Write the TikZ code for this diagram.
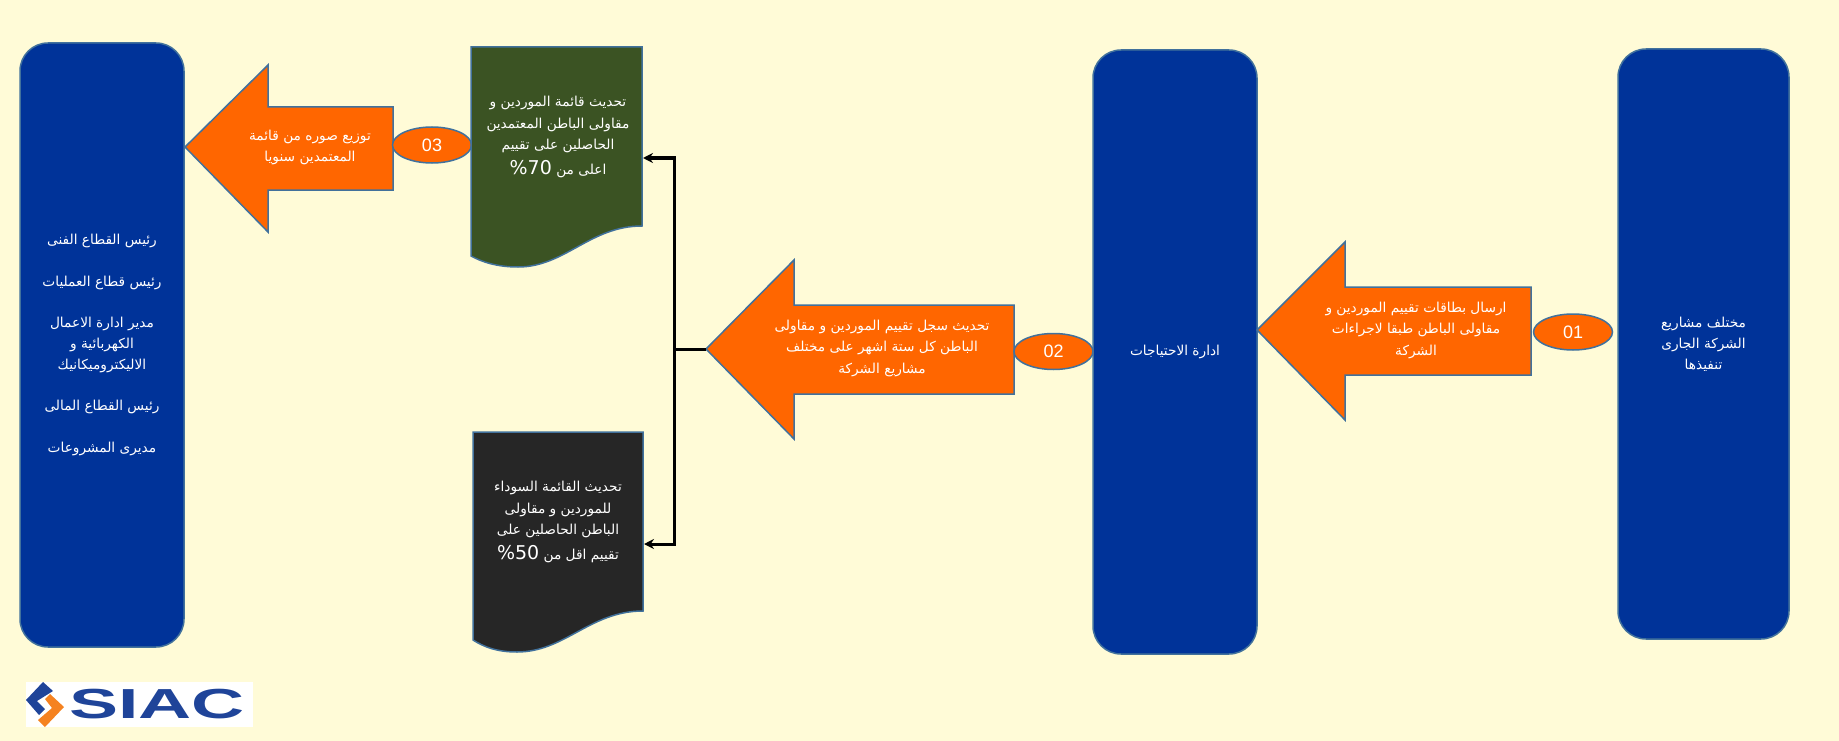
\documentclass[tikz,border=0pt]{standalone}
\usepackage{fontspec}
\usepackage{tikz}
\usetikzlibrary{arrows.meta,positioning,shapes.geometric}
\setmainfont{Liberation Sans}
\newfontfamily\arabicfont[Script=Arabic]{DejaVu Sans}
\TeXXeTstate=1
\newcommand{\arline}[1]{\beginR #1\endR}
\definecolor{pagebg}{HTML}{FFFBD7}
\definecolor{panelblue}{HTML}{003399}
\definecolor{edgeblue}{HTML}{41719C}
\definecolor{stepor}{HTML}{FF6600}
\definecolor{docgreen}{HTML}{3B5323}
\definecolor{docblack}{HTML}{262626}
\definecolor{logoblue}{HTML}{1F4499}
\definecolor{logoor}{HTML}{F58220}

\begin{document}
\begin{tikzpicture}[
    x=1pt, y=-1pt,
    panel/.style={rectangle, draw=edgeblue, fill=panelblue, line width=1.5pt, rounded corners=28pt, text=white, align=center, font=\arabicfont\fontsize{13.7}{20.8}\selectfont},
    label/.style={align=center, text=white, font=\arabicfont\fontsize{13.7}{21.5}\selectfont},
    stepshape/.style={draw=edgeblue, fill=stepor, line width=1.5pt},
    docshape/.style={draw=edgeblue, line width=1.5pt},
    numoval/.style={ellipse, draw=edgeblue, fill=stepor, line width=1.5pt, inner sep=0pt, minimum width=79pt, minimum height=36pt, text=white, font=\fontsize{18}{20}\selectfont},
    arrow/.style={-{Stealth[length=3.5mm,width=3.5mm]}, line width=3pt}
]
    \useasboundingbox (0,0) rectangle (1839,741);
    \fill[pagebg] (0,0) rectangle (1839,741);

    % Panels
    \node[panel, minimum width=164pt, minimum height=604pt] (chiefs) at (102,345) {\arline{رئيس القطاع الفنى}\\[20.8pt]\arline{رئيس قطاع العمليات}\\[20.8pt]\arline{مدير ادارة الاعمال}\\\arline{الكهربائية و}\\\arline{الاليكتروميكانيك}\\[20.8pt]\arline{رئيس القطاع المالى}\\[20.8pt]\arline{مديرى المشروعات}};
    \node[panel, minimum width=164pt, minimum height=604pt] (needs) at (1175,352) {\arline{ادارة الاحتياجات}};
    \node[panel, minimum width=171pt, minimum height=590pt] (sites) at (1703.5,344) {\arline{مختلف مشاريع}\\\arline{الشركة الجارى}\\\arline{تنفيذها}};

    % Block arrows
    \draw[stepshape] (185,147) coordinate (tip3) -- (268,65) -- (268,107) -- (393,107) -- (393,190) -- (268,190) -- (268,232) -- cycle;
    \draw[stepshape] (706,349) coordinate (tip2) -- (794,260) -- (794,305) -- (1014,305) -- (1014,394) -- (794,394) -- (794,439) -- cycle;
    \draw[stepshape] (1257,330) coordinate (tip1) -- (1345,242) -- (1345,287) -- (1531,287) -- (1531,375) -- (1345,375) -- (1345,420) -- cycle;
    \node[label] (send3) at (310,147.5) {\arline{توزيع صوره من قائمة}\\\arline{المعتمدين سنويا}};
    \node[label] (send2) at (882,348) {\arline{تحديث سجل تقييم الموردين و مقاولى}\\\arline{الباطن كل ستة اشهر على مختلف}\\\arline{مشاريع الشركة}};
    \node[label] (send1) at (1416,330) {\arline{ارسال بطاقات تقييم الموردين و}\\\arline{مقاولى الباطن طبقا لاجراءات}\\\arline{الشركة}};

    % Numbers
    \node[numoval] (n3) at (432,145) {03};
    \node[numoval] (n2) at (1053.5,351.5) {02};
    \node[numoval] (n1) at (1573,332) {01};

    % Documents
    \draw[docshape, fill=docgreen] (471,47) -- (642,47) -- (642,226) .. controls (590,226) and (565,267) .. (518,267) .. controls (497,267) and (482,262) .. (471,256) -- cycle;
    \draw[docshape, fill=docblack] (473,432) -- (643,432) -- (643,611) .. controls (590,611) and (565,652) .. (517,652) .. controls (497,652) and (484,647) .. (473,640) -- cycle;
    \node[label] (listok) at (558,137) {\arline{تحديث قائمة الموردين و}\\\arline{مقاولى الباطن المعتمدين}\\\arline{الحاصلين على تقييم}\\[3pt]\arline{اعلى من \beginL\fontsize{19}{21.5}\selectfont\%70\endL}};
    \node[label] (listbad) at (558,522) {\arline{تحديث القائمة السوداء}\\\arline{للموردين و مقاولى}\\\arline{الباطن الحاصلين على}\\[3pt]\arline{تقييم اقل من \beginL\fontsize{19}{21.5}\selectfont\%50\endL}};

    % Connectors
    \coordinate (fork) at (674,349);
    \coordinate (inok) at (643,158);
    \coordinate (inbad) at (644,544);
    \draw[line width=3pt] (tip2) -- (fork);
    \draw[arrow] (fork) |- (inok);
    \draw[arrow] (fork) |- (inbad);

    % Logo
    \fill[white] (26,682) rectangle (253,727);
    \fill[logoblue] (26,700) -- (43,682) -- (53,691) -- (37,701) -- (45,709) -- (39,715) -- cycle;
    \fill[logoor] (64,707) -- (45,727) -- (38,720) -- (52,708) -- (45,699) -- (50,694) -- cycle;
    \node[xscale=1.75, transform shape, inner sep=0pt, text=logoblue, font=\bfseries\fontsize{42}{42}\selectfont] (siac) at (157,704.5) {SIAC};
\end{tikzpicture}
\end{document}
